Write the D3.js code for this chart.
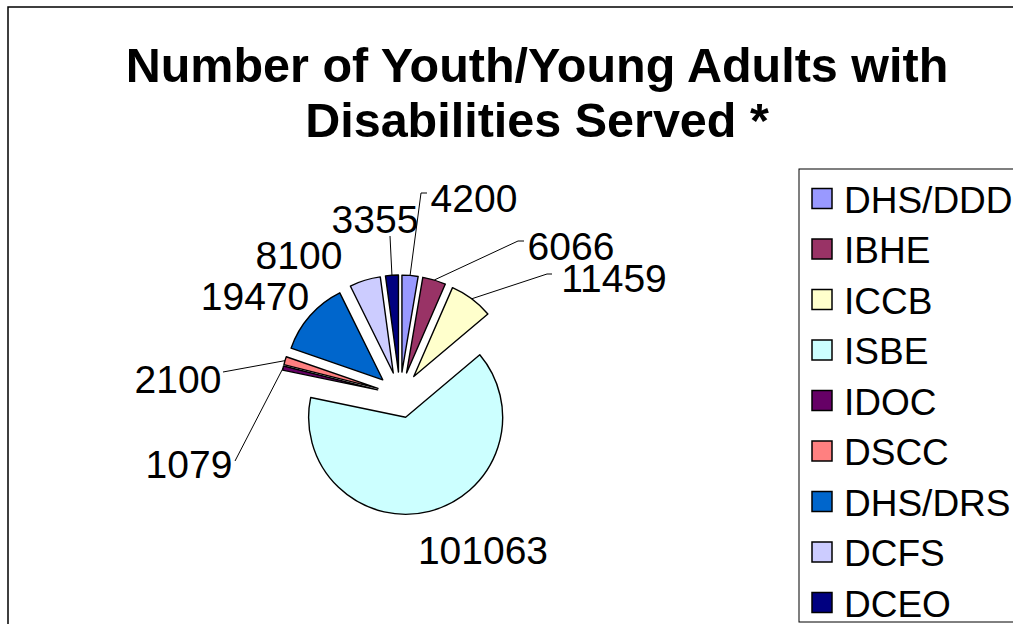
<!DOCTYPE html>
<html>
<head>
<meta charset="utf-8">
<script src="https://cdn.jsdelivr.net/npm/d3@7"></script>
<style>
  body { margin: 0; background: #fff; }
  text { font-family: "Liberation Sans", Arial, sans-serif; fill: #000; }
</style>
</head>
<body>
<div id="chart"></div>
<script>
// Data
const categories = ["DHS/DDD", "IBHE", "ICCB", "ISBE", "IDOC", "DSCC", "DHS/DRS", "DCFS", "DCEO"];
const values = [4200, 6066, 11459, 101063, 1079, 2100, 19470, 8100, 3355];
const colors = ["#9999FF", "#993366", "#FFFFCC", "#CCFFFF", "#660066", "#FF8080", "#0066CC", "#CCCCFF", "#000080"];
const titleLines = ["Number of Youth/Young Adults with", "Disabilities Served *"];

// Layout
const [width, height] = [1013, 624];
const [cx, cy, radius, explode] = [400, 395, 97, 23];
// label centre x / baseline y, in the order of categories
const labelPos = [[474, 212], [571, 260], [614, 292], [483, 564], [189, 478], [178, 393], [255, 310], [299, 269], [375, 233]];
// leader line bends (null = no leader)
const leaderBends = [
  [[421, 193], [427, 193]],
  [[518, 241], [524, 241]],
  [[547, 274], [552, 274]],
  null,
  [[235, 461]],
  [[223, 372]],
  null,
  null,
  [[390, 236]]
];

const svg = d3.select("#chart")
  .append("svg")
  .attr("width", width)
  .attr("height", height);

// chart area border
svg.append("rect")
  .attr("x", 8).attr("y", 7)
  .attr("width", 1100).attr("height", 700)
  .attr("fill", "none")
  .attr("stroke", "#000")
  .attr("stroke-width", 1.5);

// title
svg.append("g").selectAll("text")
  .data(titleLines)
  .enter()
  .append("text")
  .attr("x", 537)
  .attr("y", (d, i) => 82 + i * 55)
  .attr("text-anchor", "middle")
  .style("font-size", "48.5px")
  .style("font-weight", "bold")
  .text(d => d);

// pie
const pie = d3.pie().sort(null).value(d => d)(values);
const arc = d3.arc().innerRadius(0).outerRadius(radius);
const unit = a => [Math.sin(a), -Math.cos(a)];

const g = svg.append("g").attr("transform", `translate(${cx},${cy})`);

g.selectAll("path")
  .data(pie)
  .enter()
  .append("path")
  .attr("d", arc)
  .attr("transform", d => {
    const [ux, uy] = unit((d.startAngle + d.endAngle) / 2);
    return `translate(${ux * explode},${uy * explode})`;
  })
  .attr("fill", (d, i) => colors[i])
  .attr("stroke", "#000")
  .attr("stroke-width", 1.4)
  .attr("stroke-linejoin", "round");

// leader lines
pie.forEach((d, i) => {
  if (!leaderBends[i]) return;
  const [ux, uy] = unit((d.startAngle + d.endAngle) / 2);
  const start = [cx + ux * (explode + radius), cy + uy * (explode + radius)];
  svg.append("path")
    .attr("d", d3.line()([start, ...leaderBends[i]]))
    .attr("fill", "none")
    .attr("stroke", "#000")
    .attr("stroke-width", 1);
});

// data labels
svg.append("g").selectAll("text")
  .data(values)
  .enter()
  .append("text")
  .attr("x", (d, i) => labelPos[i][0])
  .attr("y", (d, i) => labelPos[i][1])
  .attr("text-anchor", "middle")
  .style("font-size", "39px")
  .text(d => d);

// legend
const legend = svg.append("g");
legend.append("rect")
  .attr("x", 799).attr("y", 169)
  .attr("width", 400).attr("height", 453)
  .attr("fill", "#fff")
  .attr("stroke", "#000")
  .attr("stroke-width", 1);

const rows = legend.selectAll("g.row")
  .data(categories)
  .enter()
  .append("g")
  .attr("class", "row")
  .attr("transform", (d, i) => `translate(0,${212.5 + i * 50.5})`);

rows.append("rect")
  .attr("x", 812).attr("y", -24)
  .attr("width", 20).attr("height", 20)
  .attr("fill", (d, i) => colors[i])
  .attr("stroke", "#000")
  .attr("stroke-width", 1.5);

rows.append("text")
  .attr("x", 844)
  .attr("y", 0)
  .style("font-size", "37px")
  .text(d => d);
</script>
</body>
</html>
